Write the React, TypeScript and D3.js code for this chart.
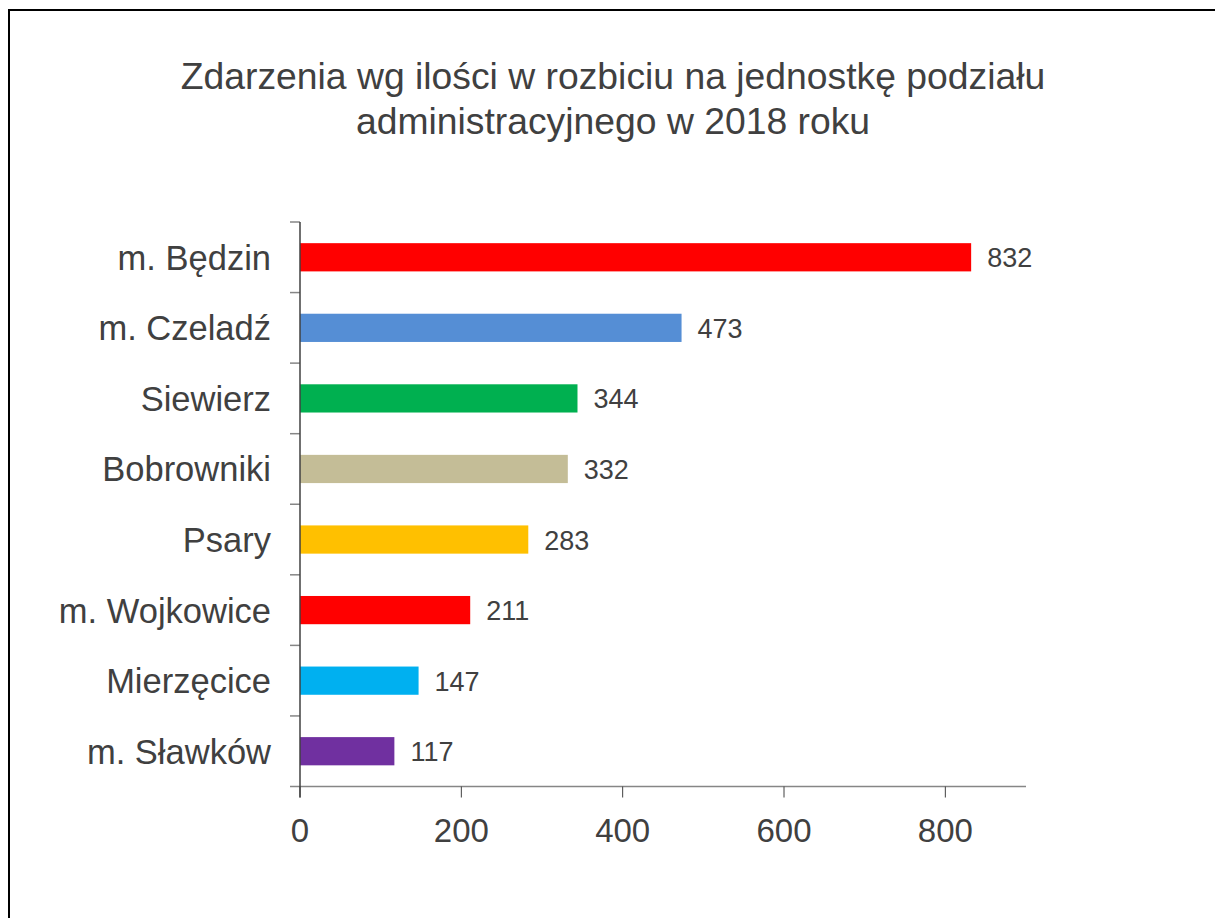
import React from "react";
import * as d3 from "d3";

const categories = ["m. Będzin", "m. Czeladź", "Siewierz", "Bobrowniki", "Psary", "m. Wojkowice", "Mierzęcice", "m. Sławków"];
const values = [832, 473, 344, 332, 283, 211, 147, 117];
const barColors = ["#FF0000", "#558ED5", "#00B050", "#C4BD97", "#FFC000", "#FF0000", "#00B0F0", "#7030A0"];
const xTicks = [0, 200, 400, 600, 800];
const titleLines = ["Zdarzenia wg ilości w rozbiciu na jednostkę podziału", "administracyjnego w 2018 roku"];

const FONT = "'Liberation Sans', Arial, sans-serif";
const TEXT = "#404040";

export default function App() {
  const left = 300, right = 1026, top = 222, bottom = 786.5;
  const x = d3.scaleLinear().domain([0, 900]).range([left, right]);
  const y = d3.scaleBand<string>().domain(categories).range([top, bottom]).paddingInner(0.6).paddingOuter(0.3);
  const yb = d3.scaleBand<string>().domain(categories).range([top, bottom]);
  const bw = y.bandwidth();
  return (
    <svg width={1215} height={918} style={{ position: "absolute", left: 0, top: 0, background: "#fff" }} fontFamily={FONT}>
      <rect x={9} y={10} width={1400} height={1200} fill="#fff" stroke="#000" strokeWidth={2} />
      {titleLines.map((t, i) => (
        <text key={i} x={613} y={89 + i * 45} textAnchor="middle" fontSize={37.3} fill={TEXT}>{t}</text>
      ))}
      {categories.map((c) => (
        <line key={"t" + c} x1={290} x2={left} y1={yb(c)!} y2={yb(c)!} stroke="#868686" strokeWidth={1.5} />
      ))}
      {categories.map((c, i) => (
        <g key={c}>
          <rect x={x(0)} y={y(c)!} width={x(values[i]) - x(0)} height={bw} fill={barColors[i]} />
          <text x={x(values[i]) + 16} y={y(c)! + bw / 2 + 10} fontSize={27} fill={TEXT}>{values[i]}</text>
          <text x={271} y={y(c)! + bw / 2 + 12.5} textAnchor="end" fontSize={34.5} fill={TEXT}>{c}</text>
        </g>
      ))}
      <line x1={290} x2={right} y1={bottom} y2={bottom} stroke="#868686" strokeWidth={1.5} />
      {xTicks.map((t) => (
        <g key={t}>
          <line x1={x(t)} x2={x(t)} y1={bottom} y2={bottom + 11} stroke="#404040" strokeWidth={1} />
          <text x={x(t)} y={842} textAnchor="middle" fontSize={33} fill={TEXT}>{t}</text>
        </g>
      ))}
      <line x1={left} x2={left} y1={top} y2={bottom + 11} stroke="#404040" strokeWidth={1.5} />
    </svg>
  );
}
